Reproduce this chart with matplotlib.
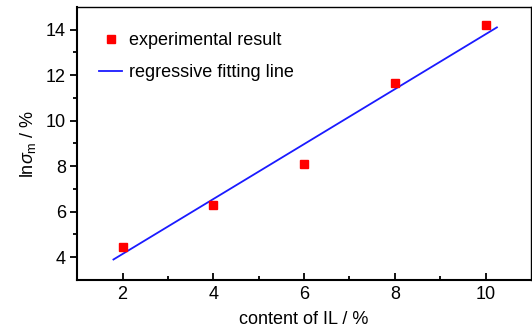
import matplotlib
matplotlib.use("Agg")
import matplotlib.pyplot as plt
import numpy as np

plt.rcParams['font.family'] = ['Liberation Sans', 'DejaVu Sans']
plt.rcParams['mathtext.fontset'] = 'custom'
plt.rcParams['mathtext.rm'] = 'Liberation Sans'
plt.rcParams['mathtext.it'] = 'Liberation Sans:italic'

# data
il_content = [2, 4, 6, 8, 10]
ln_sigma = [4.44, 6.3, 8.1, 11.65, 14.22]
fit_x = [1.8, 10.25]
fit_y = [3.9, 14.1]

fig = plt.figure(figsize=(5.32, 3.29), dpi=100)
ax = fig.add_axes([0.145, 0.149, 0.853, 0.83])

ax.plot(il_content, ln_sigma, 's', color='#ff0000', markersize=6, label='experimental result', zorder=3)
ax.plot(fit_x, fit_y, '-', color='#1a1aff', lw=1.3, label='regressive fitting line')

ax.set_xlim(1, 11)
ax.set_ylim(3, 15)
ax.set_xticks([2, 4, 6, 8, 10])
ax.set_xticks([3, 5, 7, 9], minor=True)
ax.set_yticks([4, 6, 8, 10, 12, 14])
ax.set_yticks([5, 7, 9, 11, 13], minor=True)

ax.tick_params(axis='x', which='major', direction='in', length=5, width=1.3, labelsize=13, pad=4)
ax.tick_params(axis='x', which='minor', direction='in', length=3, width=1.3)
ax.tick_params(axis='y', which='major', direction='out', length=5, width=1.3, labelsize=13, pad=3)
ax.tick_params(axis='y', which='minor', direction='out', length=3, width=1.3)

for side in ['left', 'bottom']:
    ax.spines[side].set_linewidth(1.5)
for side in ['top', 'right']:
    ax.spines[side].set_linewidth(1.0)

ax.set_xlabel('content of IL / %', fontsize=13, labelpad=6)
ax.set_ylabel(r'ln$\sigma_{\mathrm{m}}$ / %', fontsize=13, labelpad=6)

ax.legend(loc='upper left', frameon=False, fontsize=13, handlelength=1.25,
          handletextpad=0.4, borderaxespad=0.0, labelspacing=0.85,
          bbox_to_anchor=(0.033, 0.935))

plt.savefig('out.png', dpi=100)
